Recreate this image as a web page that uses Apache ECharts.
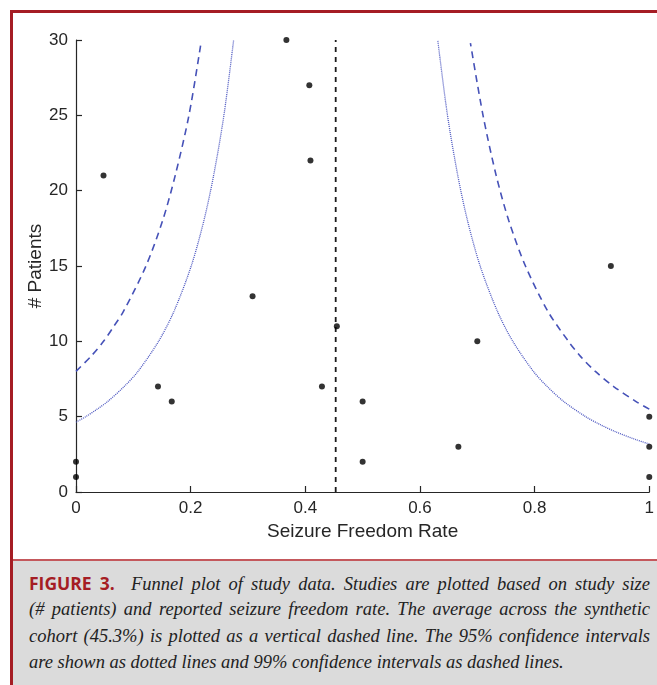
<!DOCTYPE html>
<html>
<head>
<meta charset="utf-8">
<script src="https://cdn.jsdelivr.net/npm/echarts@6/dist/echarts.min.js"></script>
<style>
	html, body { margin: 0; padding: 0; background: #fff; }
	#page { position: relative; width: 657px; height: 685px; overflow: hidden; }
	#frame { position: absolute; left: 10px; top: 10px; width: 660px; height: 690px;
		border-left: 3px solid #a51d24; border-top: 3px solid #a51d24; }
	#chart { position: absolute; left: 0; top: 0; width: 657px; height: 560px; }
	#caption { position: absolute; left: 13px; top: 559px; width: 644px; height: 126px;
		background: #dbdbdb; border-top: 2px solid #c4585c; }
	#caption .ln { position: absolute; left: 16px; width: 621px; white-space: nowrap;
		font-family: "Liberation Serif", "DejaVu Serif", serif; font-style: italic;
		font-size: 18.5px; color: #222; text-align: justify; text-align-last: justify; }
	#caption .ln.last { text-align-last: left; }
	#caption b { font-family: "Open Sans", sans-serif; font-style: normal; font-weight: 700;
		color: #a51d24; font-size: 17.5px; }
</style>
</head>
<body>
<div id="page">
	<div id="frame"></div>
	<div id="chart"></div>
	<div id="caption">
		<div class="ln" style="top:10px"><b>FIGURE 3.</b>&nbsp; Funnel plot of study data. Studies are plotted based on study size</div>
		<div class="ln" style="top:38px">(# patients) and reported seizure freedom rate. The average across the synthetic</div>
		<div class="ln" style="top:65px">cohort (45.3%) is plotted as a vertical dashed line. The 95% confidence intervals</div>
		<div class="ln last" style="top:91px">are shown as dotted lines and 99% confidence intervals as dashed lines.</div>
	</div>
</div>
<script>
// 各研究：缓解率 / 病例数
var rate = [0, 0, 0.048, 0.143, 0.167, 0.308, 0.367, 0.407, 0.409, 0.429, 0.455, 0.5, 0.5, 0.667, 0.7, 0.933, 1, 1, 1];
var patients = [1, 2, 21, 7, 6, 13, 30, 27, 22, 7, 11, 6, 2, 3, 10, 15, 5, 3, 1];

// 平均值
var meanRate = 0.453;

// 95% 置信区间 (dotted)
var lo95N = [4.64, 5, 5.5, 6, 7, 8, 10, 12, 15, 18, 21, 25, 30];
var lo95X = [0, 0.017, 0.037, 0.055, 0.084, 0.108, 0.144, 0.171, 0.201, 0.223, 0.240, 0.258, 0.275];
var hi95N = [3.18, 3.5, 4, 4.5, 5, 6, 7, 8, 10, 12, 15, 18, 21, 25, 30];
var hi95X = [1, 0.975, 0.941, 0.913, 0.889, 0.851, 0.822, 0.798, 0.762, 0.735, 0.705, 0.683, 0.666, 0.648, 0.631];

// 99% 置信区间 (dashed)
var lo99N = [8.01, 9, 10, 11, 12, 15, 18, 21, 25, 29.8];
var lo99X = [0, 0.026, 0.048, 0.066, 0.083, 0.122, 0.151, 0.173, 0.197, 0.218];
var hi99N = [5.5, 6, 7, 8, 9, 10, 12, 15, 18, 21, 25, 29.8];
var hi99X = [1, 0.977, 0.938, 0.906, 0.880, 0.859, 0.823, 0.784, 0.755, 0.733, 0.710, 0.688];

function pairs (xs, ys) {
	var out = [];
	for (var i = 0; i < xs.length; i++) {
		out.push([xs[i], ys[i]]);
	}
	return out;
}

var font = "'Liberation Sans', Arial, sans-serif";
var axisCol = "#262626";

function axis (name, max, interval, gap) {
	return {
		type: "value",
		min: 0,
		max: max,
		interval: interval,
		name: name,
		nameLocation: "middle",
		nameGap: gap,
		nameMoveOverlap: false,
		nameTextStyle: { fontFamily: font, fontSize: 19, color: axisCol },
		axisLine: { show: true, lineStyle: { color: axisCol, width: 1.2 } },
		axisTick: { show: true, inside: true, length: 6, lineStyle: { color: axisCol, width: 1.2 } },
		axisLabel: { fontFamily: font, fontSize: 17, color: axisCol, margin: 8 },
		splitLine: { show: false }
	};
}

function ciLine (data, dotted) {
	return {
		type: "line",
		data: data,
		symbol: "none",
		smooth: 0.3,
		silent: true,
		lineStyle: dotted
			? { color: "#4a55c0", width: 1.3, type: [1, 1] }	// 点线
			: { color: "#4652b8", width: 1.6, type: [7, 5] }	// 虚线
	};
}

var cc = echarts.init(document.getElementById("chart"), null, { renderer: "canvas" });

var op = {
	animation: false,
	grid: { left: 76, right: 7, top: 40, bottom: 68 },
	xAxis: axis("Seizure Freedom Rate", 1, 0.2, 30),
	yAxis: axis("# Patients", 30, 5, 31),
	series: [
		ciLine(pairs(lo95X, lo95N), true),
		ciLine(pairs(hi95X, hi95N), true),
		ciLine(pairs(lo99X, lo99N), false),
		ciLine(pairs(hi99X, hi99N), false),
		{
			type: "line",
			data: [[meanRate, 0], [meanRate, 30]],
			symbol: "none",
			lineStyle: { color: "#1a1a1a", width: 1.8, type: [5, 5] }
		},
		{
			type: "scatter",
			data: pairs(rate, patients),
			symbolSize: 6,
			itemStyle: { color: "#000" },
			z: 5
		}
	]
};

cc.setOption(op);
</script>
</body>
</html>
